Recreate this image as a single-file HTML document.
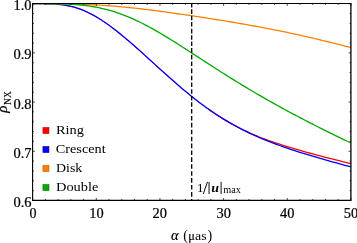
<!DOCTYPE html>
<html><head><meta charset="utf-8"><title>plot</title>
<style>
html,body{margin:0;padding:0;background:#fff;}
svg{display:block;will-change:transform;}
text{font-family:"Liberation Serif",serif;fill:#000;}
</style></head><body>
<svg width="357" height="243" viewBox="0 0 357 243">
<rect x="0" y="0" width="357" height="243" fill="#ffffff"/>
<defs><clipPath id="c"><rect x="32.65" y="3.7" width="318.25" height="196.75"/></clipPath></defs>
<g clip-path="url(#c)" fill="none" stroke-width="1.3" stroke-linejoin="round">
<path d="M32.65,3.70 L35.20,3.70 L37.74,3.70 L40.29,3.71 L42.83,3.72 L45.38,3.74 L47.93,3.79 L50.47,3.86 L53.02,3.96 L55.56,4.11 L58.11,4.31 L60.66,4.56 L63.20,4.88 L65.75,5.28 L68.29,5.75 L70.84,6.31 L73.39,6.96 L75.93,7.69 L78.48,8.52 L81.02,9.44 L83.57,10.46 L86.12,11.57 L88.66,12.77 L91.21,14.06 L93.75,15.44 L96.30,16.90 L98.85,18.44 L101.39,20.05 L103.94,21.74 L106.48,23.49 L109.03,25.31 L111.58,27.19 L114.12,29.12 L116.67,31.10 L119.21,33.14 L121.76,35.21 L124.31,37.32 L126.85,39.47 L129.40,41.65 L131.94,43.86 L134.49,46.10 L137.04,48.36 L139.58,50.64 L142.13,52.93 L144.67,55.24 L147.22,57.55 L149.77,59.88 L152.31,62.20 L154.86,64.53 L157.40,66.85 L159.95,69.17 L162.50,71.48 L165.04,73.78 L167.59,76.06 L170.13,78.33 L172.68,80.58 L175.23,82.81 L177.77,85.01 L180.32,87.19 L182.86,89.35 L185.41,91.47 L187.96,93.57 L190.50,95.63 L193.05,97.66 L195.59,99.66 L198.14,101.62 L200.69,103.55 L203.23,105.44 L205.78,107.29 L208.32,109.10 L210.87,110.88" stroke="#ff0000" stroke-width="0.95"/>
<path d="M208.32,109.10 L210.87,110.88 L213.42,112.61 L215.96,114.30 L218.51,115.95 L221.05,117.55 L223.60,119.11 L226.15,120.64 L228.69,122.12 L231.24,123.56 L233.78,124.97 L236.33,126.34 L238.88,127.67 L241.42,128.96 L243.97,130.22 L246.51,131.44 L249.06,132.62 L251.61,133.77 L254.15,134.88 L256.70,135.95 L259.24,136.99 L261.79,137.99 L264.34,138.96 L266.88,139.90 L269.43,140.82 L271.97,141.70 L274.52,142.57 L277.07,143.41 L279.61,144.24 L282.16,145.05 L284.70,145.86 L287.25,146.65 L289.80,147.43 L292.34,148.20 L294.89,148.95 L297.43,149.69 L299.98,150.42 L302.53,151.14 L305.07,151.85 L307.62,152.55 L310.16,153.25 L312.71,153.93 L315.26,154.61 L317.80,155.28 L320.35,155.95 L322.89,156.61 L325.44,157.27 L327.99,157.92 L330.53,158.57 L333.08,159.21 L335.62,159.85 L338.17,160.49 L340.72,161.13 L343.26,161.76 L345.81,162.40 L348.35,163.03 L350.90,163.66" stroke="#ff0000"/>
<path d="M32.65,3.70 L35.20,3.70 L37.74,3.70 L40.29,3.71 L42.83,3.72 L45.38,3.74 L47.93,3.79 L50.47,3.86 L53.02,3.96 L55.56,4.11 L58.11,4.31 L60.66,4.56 L63.20,4.89 L65.75,5.28 L68.29,5.76 L70.84,6.32 L73.39,6.96 L75.93,7.70 L78.48,8.53 L81.02,9.45 L83.57,10.47 L86.12,11.58 L88.66,12.78 L91.21,14.07 L93.75,15.44 L96.30,16.90 L98.85,18.44 L101.39,20.06 L103.94,21.74 L106.48,23.50 L109.03,25.31 L111.58,27.19 L114.12,29.12 L116.67,31.10 L119.21,33.13 L121.76,35.20 L124.31,37.30 L126.85,39.45 L129.40,41.62 L131.94,43.82 L134.49,46.05 L137.04,48.29 L139.58,50.56 L142.13,52.84 L144.67,55.13 L147.22,57.43 L149.77,59.74 L152.31,62.05 L154.86,64.36 L157.40,66.66 L159.95,68.97 L162.50,71.26 L165.04,73.55 L167.59,75.83 L170.13,78.09 L172.68,80.34 L175.23,82.57 L177.77,84.78 L180.32,86.97 L182.86,89.13 L185.41,91.26 L187.96,93.37 L190.50,95.45 L193.05,97.49 L195.59,99.50 L198.14,101.47 L200.69,103.41 L203.23,105.31 L205.78,107.17 L208.32,108.99 L210.87,110.78 L213.42,112.52 L215.96,114.23 L218.51,115.89 L221.05,117.51 L223.60,119.09 L226.15,120.64 L228.69,122.14 L231.24,123.61 L233.78,125.04 L236.33,126.43 L238.88,127.79 L241.42,129.12 L243.97,130.41 L246.51,131.67 L249.06,132.89 L251.61,134.09 L254.15,135.25 L256.70,136.39 L259.24,137.50 L261.79,138.58 L264.34,139.64 L266.88,140.67 L269.43,141.68 L271.97,142.66 L274.52,143.63 L277.07,144.57 L279.61,145.50 L282.16,146.41 L284.70,147.30 L287.25,148.17 L289.80,149.03 L292.34,149.87 L294.89,150.70 L297.43,151.52 L299.98,152.33 L302.53,153.12 L305.07,153.90 L307.62,154.68 L310.16,155.44 L312.71,156.20 L315.26,156.95 L317.80,157.69 L320.35,158.43 L322.89,159.16 L325.44,159.88 L327.99,160.60 L330.53,161.31 L333.08,162.02 L335.62,162.73 L338.17,163.43 L340.72,164.13 L343.26,164.83 L345.81,165.53 L348.35,166.22 L350.90,166.92" stroke="#0000ff"/>
<path d="M32.65,3.70 L35.20,3.70 L37.74,3.70 L40.29,3.70 L42.83,3.71 L45.38,3.71 L47.93,3.71 L50.47,3.72 L53.02,3.73 L55.56,3.75 L58.11,3.76 L60.66,3.78 L63.20,3.81 L65.75,3.84 L68.29,3.88 L70.84,3.92 L73.39,3.97 L75.93,4.03 L78.48,4.10 L81.02,4.19 L83.57,4.28 L86.12,4.38 L88.66,4.50 L91.21,4.62 L93.75,4.75 L96.30,4.90 L98.85,5.05 L101.39,5.22 L103.94,5.39 L106.48,5.57 L109.03,5.76 L111.58,5.96 L114.12,6.16 L116.67,6.38 L119.21,6.60 L121.76,6.83 L124.31,7.07 L126.85,7.33 L129.40,7.59 L131.94,7.85 L134.49,8.13 L137.04,8.41 L139.58,8.71 L142.13,9.00 L144.67,9.31 L147.22,9.62 L149.77,9.94 L152.31,10.26 L154.86,10.59 L157.40,10.92 L159.95,11.26 L162.50,11.61 L165.04,11.95 L167.59,12.30 L170.13,12.66 L172.68,13.02 L175.23,13.38 L177.77,13.74 L180.32,14.11 L182.86,14.48 L185.41,14.85 L187.96,15.22 L190.50,15.59 L193.05,15.97 L195.59,16.35 L198.14,16.73 L200.69,17.11 L203.23,17.50 L205.78,17.89 L208.32,18.29 L210.87,18.69 L213.42,19.09 L215.96,19.50 L218.51,19.90 L221.05,20.32 L223.60,20.73 L226.15,21.15 L228.69,21.57 L231.24,22.00 L233.78,22.43 L236.33,22.86 L238.88,23.30 L241.42,23.74 L243.97,24.19 L246.51,24.64 L249.06,25.09 L251.61,25.55 L254.15,26.01 L256.70,26.48 L259.24,26.95 L261.79,27.43 L264.34,27.91 L266.88,28.40 L269.43,28.89 L271.97,29.39 L274.52,29.89 L277.07,30.39 L279.61,30.91 L282.16,31.43 L284.70,31.95 L287.25,32.48 L289.80,33.02 L292.34,33.56 L294.89,34.10 L297.43,34.66 L299.98,35.22 L302.53,35.78 L305.07,36.35 L307.62,36.93 L310.16,37.51 L312.71,38.10 L315.26,38.69 L317.80,39.29 L320.35,39.90 L322.89,40.51 L325.44,41.13 L327.99,41.75 L330.53,42.39 L333.08,43.02 L335.62,43.67 L338.17,44.32 L340.72,44.97 L343.26,45.63 L345.81,46.30 L348.35,46.98 L350.90,47.66" stroke="#ff8000"/>
<path d="M32.65,3.70 L35.20,3.70 L37.74,3.70 L40.29,3.70 L42.83,3.71 L45.38,3.71 L47.93,3.72 L50.47,3.74 L53.02,3.76 L55.56,3.79 L58.11,3.82 L60.66,3.87 L63.20,3.94 L65.75,4.02 L68.29,4.11 L70.84,4.23 L73.39,4.37 L75.93,4.55 L78.48,4.75 L81.02,4.99 L83.57,5.27 L86.12,5.58 L88.66,5.93 L91.21,6.32 L93.75,6.75 L96.30,7.22 L98.85,7.73 L101.39,8.29 L103.94,8.89 L106.48,9.54 L109.03,10.23 L111.58,10.96 L114.12,11.74 L116.67,12.56 L119.21,13.43 L121.76,14.34 L124.31,15.31 L126.85,16.32 L129.40,17.37 L131.94,18.47 L134.49,19.61 L137.04,20.80 L139.58,22.02 L142.13,23.28 L144.67,24.58 L147.22,25.92 L149.77,27.29 L152.31,28.69 L154.86,30.12 L157.40,31.57 L159.95,33.06 L162.50,34.57 L165.04,36.09 L167.59,37.64 L170.13,39.21 L172.68,40.80 L175.23,42.40 L177.77,44.01 L180.32,45.63 L182.86,47.26 L185.41,48.90 L187.96,50.55 L190.50,52.20 L193.05,53.85 L195.59,55.51 L198.14,57.16 L200.69,58.82 L203.23,60.48 L205.78,62.13 L208.32,63.78 L210.87,65.42 L213.42,67.06 L215.96,68.69 L218.51,70.32 L221.05,71.94 L223.60,73.55 L226.15,75.16 L228.69,76.75 L231.24,78.34 L233.78,79.92 L236.33,81.49 L238.88,83.05 L241.42,84.60 L243.97,86.14 L246.51,87.67 L249.06,89.20 L251.61,90.71 L254.15,92.21 L256.70,93.70 L259.24,95.18 L261.79,96.65 L264.34,98.12 L266.88,99.57 L269.43,101.01 L271.97,102.44 L274.52,103.87 L277.07,105.28 L279.61,106.68 L282.16,108.08 L284.70,109.47 L287.25,110.84 L289.80,112.21 L292.34,113.57 L294.89,114.92 L297.43,116.27 L299.98,117.61 L302.53,118.94 L305.07,120.26 L307.62,121.58 L310.16,122.89 L312.71,124.19 L315.26,125.48 L317.80,126.77 L320.35,128.05 L322.89,129.33 L325.44,130.60 L327.99,131.86 L330.53,133.12 L333.08,134.37 L335.62,135.61 L338.17,136.85 L340.72,138.08 L343.26,139.31 L345.81,140.53 L348.35,141.74 L350.90,142.95" stroke="#00aa00"/>
</g>
<path d="M191.7,198.90 V200.30 M191.7,192.10 V196.70 M191.7,185.00 V189.60 M191.7,178.09 V182.69 M191.7,171.18 V175.78 M191.7,164.27 V168.87 M191.7,157.36 V161.96 M191.7,150.45 V155.05 M191.7,143.54 V148.14 M191.7,136.63 V141.23 M191.7,129.72 V134.32 M191.7,122.81 V127.41 M191.7,115.90 V120.50 M191.7,108.90 V113.50 M191.7,102.20 V106.80 M191.7,96.00 V100.60 M191.7,89.20 V93.80 M191.7,82.50 V87.10 M191.7,75.70 V80.30 M191.7,68.60 V73.20 M191.7,61.50 V66.10 M191.7,54.80 V59.40 M191.7,48.10 V52.70 M191.7,41.40 V46.00 M191.7,35.20 V39.80 M191.7,28.80 V33.40 M191.7,22.00 V26.60 M191.7,15.65 V20.25 M191.7,9.30 V13.90 M191.7,3.55 V7.50" stroke="#000" stroke-width="1.3" fill="none"/>
<path d="M32.6,200.95 V3.55 H351.15" fill="none" stroke="#000" stroke-width="1.1" stroke-linejoin="miter"/>
<path d="M32.05,200.3 H350.9 V3.00" fill="none" stroke="#000" stroke-width="1.3" stroke-linejoin="miter"/>
<path d="M32.65,200.3 v-2.35 M32.65,3.55 v2.35 M45.38,200.3 v-1.35 M45.38,3.55 v1.35 M58.11,200.3 v-1.35 M58.11,3.55 v1.35 M70.84,200.3 v-1.35 M70.84,3.55 v1.35 M83.57,200.3 v-1.35 M83.57,3.55 v1.35 M96.30,200.3 v-2.35 M96.30,3.55 v2.35 M109.03,200.3 v-1.35 M109.03,3.55 v1.35 M121.76,200.3 v-1.35 M121.76,3.55 v1.35 M134.49,200.3 v-1.35 M134.49,3.55 v1.35 M147.22,200.3 v-1.35 M147.22,3.55 v1.35 M159.95,200.3 v-2.35 M159.95,3.55 v2.35 M172.68,200.3 v-1.35 M172.68,3.55 v1.35 M185.41,200.3 v-1.35 M185.41,3.55 v1.35 M198.14,200.3 v-1.35 M198.14,3.55 v1.35 M210.87,200.3 v-1.35 M210.87,3.55 v1.35 M223.60,200.3 v-2.35 M223.60,3.55 v2.35 M236.33,200.3 v-1.35 M236.33,3.55 v1.35 M249.06,200.3 v-1.35 M249.06,3.55 v1.35 M261.79,200.3 v-1.35 M261.79,3.55 v1.35 M274.52,200.3 v-1.35 M274.52,3.55 v1.35 M287.25,200.3 v-2.35 M287.25,3.55 v2.35 M299.98,200.3 v-1.35 M299.98,3.55 v1.35 M312.71,200.3 v-1.35 M312.71,3.55 v1.35 M325.44,200.3 v-1.35 M325.44,3.55 v1.35 M338.17,200.3 v-1.35 M338.17,3.55 v1.35 M350.90,200.3 v-2.35 M350.90,3.55 v2.35 M32.6,3.70 h2.35 M350.9,3.70 h-2.35 M32.6,13.54 h1.35 M350.9,13.54 h-1.35 M32.6,23.38 h1.35 M350.9,23.38 h-1.35 M32.6,33.21 h1.35 M350.9,33.21 h-1.35 M32.6,43.05 h1.35 M350.9,43.05 h-1.35 M32.6,52.89 h2.35 M350.9,52.89 h-2.35 M32.6,62.73 h1.35 M350.9,62.73 h-1.35 M32.6,72.56 h1.35 M350.9,72.56 h-1.35 M32.6,82.40 h1.35 M350.9,82.40 h-1.35 M32.6,92.24 h1.35 M350.9,92.24 h-1.35 M32.6,102.08 h2.35 M350.9,102.08 h-2.35 M32.6,111.91 h1.35 M350.9,111.91 h-1.35 M32.6,121.75 h1.35 M350.9,121.75 h-1.35 M32.6,131.59 h1.35 M350.9,131.59 h-1.35 M32.6,141.42 h1.35 M350.9,141.42 h-1.35 M32.6,151.26 h2.35 M350.9,151.26 h-2.35 M32.6,161.10 h1.35 M350.9,161.10 h-1.35 M32.6,170.94 h1.35 M350.9,170.94 h-1.35 M32.6,180.77 h1.35 M350.9,180.77 h-1.35 M32.6,190.61 h1.35 M350.9,190.61 h-1.35 M32.6,200.45 h2.35 M350.9,200.45 h-2.35" stroke="#000" stroke-width="0.7" fill="none"/>
<!-- y tick labels -->
<g font-size="14" text-anchor="end" stroke="#000" stroke-width="0.22">
<text x="31.5" y="9.6" textLength="18.1" lengthAdjust="spacingAndGlyphs">1.0</text>
<text x="31.5" y="58.7" textLength="18.1" lengthAdjust="spacingAndGlyphs">0.9</text>
<text x="31.5" y="108.9" textLength="18.1" lengthAdjust="spacingAndGlyphs">0.8</text>
<text x="31.5" y="158" textLength="18.1" lengthAdjust="spacingAndGlyphs">0.7</text>
<text x="31.5" y="206.9" textLength="18.1" lengthAdjust="spacingAndGlyphs">0.6</text>
</g>
<g font-size="14" text-anchor="middle" stroke="#000" stroke-width="0.22">
<text x="33.1" y="217.9">0</text>
<text x="96.4" y="217.9" textLength="14.4" lengthAdjust="spacingAndGlyphs">10</text>
<text x="159.8" y="217.9" textLength="14.4" lengthAdjust="spacingAndGlyphs">20</text>
<text x="223.8" y="217.9" textLength="14.4" lengthAdjust="spacingAndGlyphs">30</text>
<text x="287.3" y="217.9" textLength="14.4" lengthAdjust="spacingAndGlyphs">40</text>
<text x="351" y="217.9" textLength="14.4" lengthAdjust="spacingAndGlyphs">50</text>
</g>
<!-- x label -->
<text x="171" y="240.1" font-size="14" font-style="italic" stroke="#000" stroke-width="0.2" textLength="7.6" lengthAdjust="spacingAndGlyphs">α</text>
<text x="188.2" y="240.1" font-size="13" stroke="#000" stroke-width="0.2" textLength="6.6" lengthAdjust="spacingAndGlyphs">μ</text>
<text x="183.2" y="239.9" font-size="14">(</text>
<text x="195.1" y="240.1" font-size="13" textLength="11.6" lengthAdjust="spacingAndGlyphs">as</text>
<text x="207.6" y="239.9" font-size="14">)</text>
<!-- y label -->
<g transform="translate(6.7,112.3) rotate(-90)">
<text x="-0.4" y="0" font-size="14" font-style="italic" stroke="#000" stroke-width="0.2" textLength="7.2" lengthAdjust="spacingAndGlyphs">ρ</text>
</g>
<g transform="translate(10.8,105) rotate(-90)"><text x="0" y="0" font-size="10.8" stroke="#000" stroke-width="0.15" textLength="13.8" lengthAdjust="spacingAndGlyphs">NX</text></g>
<!-- legend -->
<g stroke-width="0.5">
<rect x="42.9" y="127.4" width="6.1" height="6.2" fill="#ff0000" stroke="#a80000"/>
<rect x="42.9" y="146.4" width="6.1" height="6.2" fill="#0000ff" stroke="#0000a8"/>
<rect x="42.9" y="165.4" width="6.1" height="6.2" fill="#ff8000" stroke="#a85400"/>
<rect x="42.9" y="184.45" width="6.1" height="6.2" fill="#00aa00" stroke="#007000"/>
</g>
<g font-size="13.4">
<text x="55.9" y="134" textLength="28" lengthAdjust="spacingAndGlyphs">Ring</text>
<text x="55.7" y="153.4" textLength="50" lengthAdjust="spacingAndGlyphs">Crescent</text>
<text x="56" y="172.3" textLength="26.3" lengthAdjust="spacingAndGlyphs">Disk</text>
<text x="56" y="191.3" textLength="42.4" lengthAdjust="spacingAndGlyphs">Double</text>
</g>
<!-- annotation -->
<text x="196.9" y="191.5" font-size="13">1</text>
<path d="M203.3,193.9 L207.5,181.9 M209.05,181.9 V194 M221.1,181.9 V194" stroke="#000" stroke-width="0.95" fill="none"/>
<text x="211.3" y="191.5" font-size="13" font-style="italic" font-weight="bold" textLength="7.8" lengthAdjust="spacingAndGlyphs">u</text>
<text x="223.2" y="193.4" font-size="10" textLength="17.7" lengthAdjust="spacingAndGlyphs">max</text>
</svg>
</body></html>
